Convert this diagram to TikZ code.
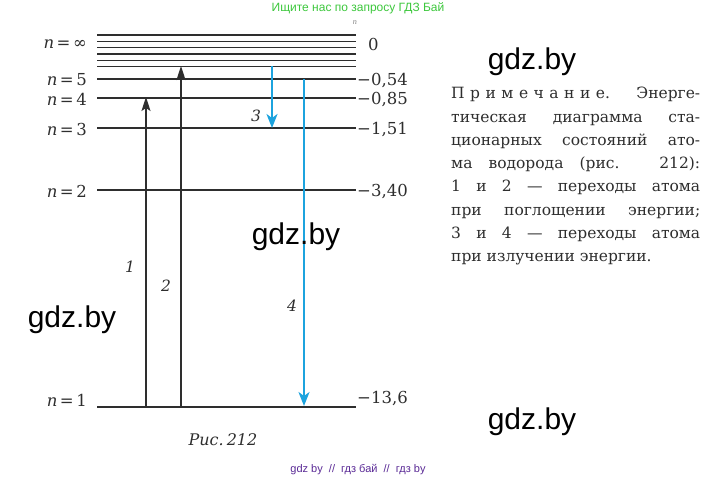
\documentclass[tikz,border=0pt]{standalone}
\usepackage{fontspec}
\usetikzlibrary{arrows.meta}
\newfontfamily\serfont{DejaVu Serif}
\newfontfamily\wmfont{Liberation Sans}
\definecolor{linegray}{HTML}{2E2E2E}
\definecolor{arrblue}{HTML}{1CA3DE}
\definecolor{wmgreen}{HTML}{3DC83D}
\definecolor{wmpurple}{HTML}{5A2A96}
\newcommand{\nlab}[1]{\textit{n}\hspace{2.5pt}=\hspace{2.5pt}#1}
\begin{document}
\begin{tikzpicture}[x=1pt,y=-1pt,
  level/.style={draw=linegray,line width=1.6pt},
  uparr/.style={draw=linegray,line width=1.6pt,-{Stealth[length=14pt,width=9pt,inset=3pt]}},
  downarr/.style={draw=arrblue,line width=1.6pt,-{Stealth[length=14pt,width=11pt,inset=4pt]}},
  lbl/.style={inner sep=0pt,text=linegray,font=\serfont\fontsize{16.5}{19}\selectfont},
  numlbl/.style={inner sep=0pt,text=linegray,font=\serfont\fontsize{15.5}{17}\selectfont\itshape},
  bigwm/.style={inner sep=0pt,font=\wmfont\fontsize{30}{32}\selectfont}
]
\useasboundingbox (0,0) rectangle (718,480);
\fill[white] (0,0) rectangle (718,480);
% level coordinates
\foreach \nm/\y in {t1/35,t2/41.5,t3/47.5,t4/54,t5/60.5,t6/66.5,l5/79,l4/98,l3/128,l2/190,l1/407}{
  \coordinate (\nm a) at (97,\y);
  \coordinate (\nm b) at (356,\y);
  \draw[level] (\nm a) -- (\nm b);
}
% left labels
\node[lbl,anchor=east] (ninf) at (87,44) {\nlab{∞}};
\node[lbl,anchor=east] (n5) at (87,80) {\nlab{5}};
\node[lbl,anchor=east] (n4) at (87,99) {\nlab{4}};
\node[lbl,anchor=east] (n3) at (87,129) {\nlab{3}};
\node[lbl,anchor=east] (n2) at (87,191) {\nlab{2}};
\node[lbl,anchor=east] (n1) at (87,400) {\nlab{1}};
% right labels
\node[lbl,anchor=west] (e0) at (368,44) {0};
\node[lbl,anchor=west] (e5) at (357,80) {−0,54};
\node[lbl,anchor=west] (e4) at (357,99) {−0,85};
\node[lbl,anchor=west] (e3) at (357,129) {−1,51};
\node[lbl,anchor=west] (e2) at (357,191) {−3,40};
\node[lbl,anchor=west] (e1) at (357,398) {−13,6};
\node[inner sep=0pt,font=\serfont\fontsize{7}{8}\selectfont\itshape,text=gray] (tn) at (355,23) {n};
% arrows
\coordinate (a1s) at (146,407); \coordinate (a1e) at (146,97);
\coordinate (a2s) at (181,407); \coordinate (a2e) at (181,66);
\coordinate (a3s) at (272,66);  \coordinate (a3e) at (272,128);
\coordinate (a4s) at (304,79);  \coordinate (a4e) at (304,406);
\draw[uparr] (a1s) -- (a1e);
\draw[uparr] (a2s) -- (a2e);
\draw[downarr] (a3s) -- (a3e);
\draw[downarr] (a4s) -- (a4e);
\node[numlbl] (k1) at (130,267) {1};
\node[numlbl] (k2) at (166,286) {2};
\node[numlbl] (k3) at (256,116) {3};
\node[numlbl] (k4) at (292,306) {4};
% caption
\node[inner sep=0pt,text=linegray,font=\serfont\fontsize{16}{18}\selectfont\itshape] (cap) at (223,440) {Рис.\hspace{3pt}212};
% note
\node[inner sep=0pt,anchor=north west,text=linegray] (note) at (451,87) {\parbox[t]{249pt}{\serfont\fontsize{15.5}{23.3}\selectfont
П\hspace{5.5pt}р\hspace{5.5pt}и\hspace{5.5pt}м\hspace{5.5pt}е\hspace{5.5pt}ч\hspace{5.5pt}а\hspace{5.5pt}н\hspace{5.5pt}и\hspace{5.5pt}е. Энерге-\linebreak
тическая диаграмма ста-\linebreak
ционарных состояний ато-\linebreak
ма водорода (рис. 212):\linebreak
1 и 2 — переходы атома\linebreak
при поглощении энергии;\linebreak
3 и 4 — переходы атома\linebreak
при излучении энергии.}};
% watermarks
\node[inner sep=0pt,font=\wmfont\fontsize{12}{14}\selectfont,text=wmgreen] (wtop) at (358,8) {Ищите нас по запросу ГДЗ Бай};
\node[inner sep=0pt,font=\wmfont\fontsize{11}{13}\selectfont,text=wmpurple] (wbot) at (358,470) {gdz by \ // \ гдз бай \ // \ гдз by};
\node[bigwm] (w1) at (532,62) {gdz.by};
\node[bigwm] (w2) at (296,237) {gdz.by};
\node[bigwm] (w3) at (72,320) {gdz.by};
\node[bigwm] (w4) at (532,422) {gdz.by};
\end{tikzpicture}
\end{document}
